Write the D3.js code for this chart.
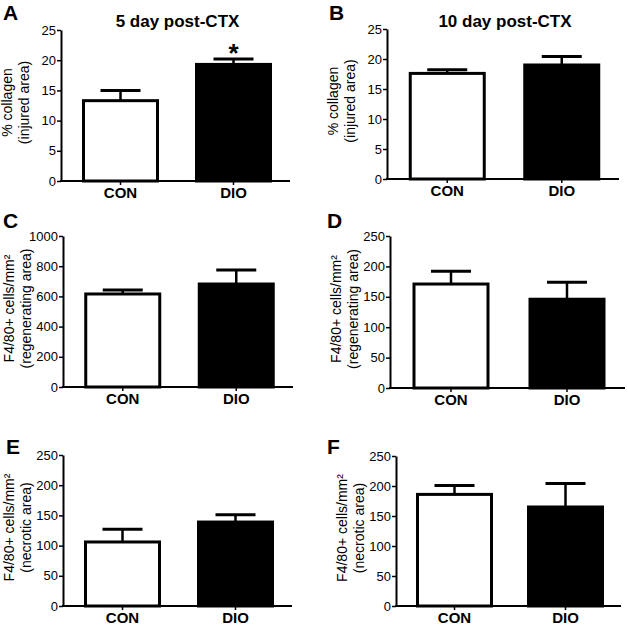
<!DOCTYPE html>
<html>
<head>
<meta charset="utf-8">
<script src="https://cdn.jsdelivr.net/npm/d3@7"></script>
<style>
  html, body { margin: 0; padding: 0; background: #fff; }
  svg { display: block; font-family: "Liberation Sans", Arial, Helvetica, sans-serif; }
</style>
</head>
<body>
<svg id="chart" width="628" height="625"></svg>
<script>
// ---- data ----
const categories = ["CON", "DIO"];
const panelLetters = ["A", "B", "C", "D", "E", "F"];
const panelTitles = ["5 day post-CTX", "10 day post-CTX", "", "", "", ""];
const yLabelLine1 = ["% collagen", "% collagen", "F4/80+ cells/mm²", "F4/80+ cells/mm²", "F4/80+ cells/mm²", "F4/80+ cells/mm²"];
const yLabelLine2 = ["(injured area)", "(injured area)", "(regenerating area)", "(regenerating area)", "(necrotic area)", "(necrotic area)"];
const yMax = [25, 25, 1000, 250, 250, 250];
const yTicks = [
  [0, 5, 10, 15, 20, 25],
  [0, 5, 10, 15, 20, 25],
  [0, 200, 400, 600, 800, 1000],
  [0, 50, 100, 150, 200, 250],
  [0, 50, 100, 150, 200, 250],
  [0, 50, 100, 150, 200, 250]
];
const meanCON = [13.3, 17.6, 616, 171, 106, 186];
const meanDIO = [19.3, 19.0, 682, 146, 139, 165];
const semCON = [1.7, 0.6, 26, 21, 21, 15];
const semDIO = [0.9, 1.4, 93, 28, 12, 39];
const significance = [["", "*"], ["", ""], ["", ""], ["", ""], ["", ""], ["", ""]];

// ---- layout (pixel geometry per panel) ----
const layout = [
  { ax: 61,  xEnd: 290, y0: 181, yTop: 30,  lx: 3,   ly: 20 },
  { ax: 387, xEnd: 619, y0: 179, yTop: 29,  lx: 329, ly: 20 },
  { ax: 63,  xEnd: 293, y0: 387, yTop: 236, lx: 3,   ly: 228 },
  { ax: 390, xEnd: 625, y0: 388, yTop: 236, lx: 327, ly: 228 },
  { ax: 63,  xEnd: 292, y0: 606, yTop: 455, lx: 6,   ly: 454 },
  { ax: 396, xEnd: 621, y0: 606, yTop: 456, lx: 327, ly: 454 }
];

const svg = d3.select("#chart");
const barW = 74;

layout.forEach((L, i) => {
  const g = svg.append("g");
  const y = d3.scaleLinear().domain([0, yMax[i]]).range([L.y0, L.yTop]);
  const x = d3.scalePoint().domain(categories).range([L.ax + 3, L.xEnd]).padding(0.5);

  // panel letter
  g.append("text").attr("x", L.lx).attr("y", L.ly)
    .attr("font-size", 21).attr("font-weight", "bold").text(panelLetters[i]);

  // title
  if (panelTitles[i]) {
    g.append("text").attr("x", (L.ax + L.xEnd) / 2 + 2).attr("y", 27)
      .attr("text-anchor", "middle").attr("font-size", 17).attr("font-weight", "bold")
      .text(panelTitles[i]);
  }

  const rows = categories.map((c, j) => ({
    cat: c,
    mean: j === 0 ? meanCON[i] : meanDIO[i],
    sem: j === 0 ? semCON[i] : semDIO[i],
    sig: significance[i][j],
    fill: j === 0 ? "#fff" : "#000"
  }));

  // error bars (upper only)
  rows.forEach(r => {
    const cx = x(r.cat);
    g.append("line").attr("x1", cx).attr("x2", cx)
      .attr("y1", y(r.mean)).attr("y2", y(r.mean + r.sem))
      .attr("stroke", "#000").attr("stroke-width", 2.5);
    g.append("line").attr("x1", cx - 20).attr("x2", cx + 20)
      .attr("y1", y(r.mean + r.sem)).attr("y2", y(r.mean + r.sem))
      .attr("stroke", "#000").attr("stroke-width", 3);
    if (r.sig) {
      g.append("text").attr("x", cx).attr("y", y(r.mean + r.sem) + 3)
        .attr("text-anchor", "middle").attr("font-size", 26).attr("font-weight", "bold")
        .text(r.sig);
    }
  });

  g.selectAll("rect.bar").data(rows).join("rect")
    .attr("class", "bar")
    .attr("x", d => x(d.cat) - barW / 2)
    .attr("width", barW)
    .attr("y", d => y(d.mean))
    .attr("height", d => y(0) - y(d.mean))
    .attr("fill", d => d.fill)
    .attr("stroke", "#000").attr("stroke-width", 3);

  // y axis
  const yAxis = d3.axisLeft(y).tickValues(yTicks[i]).tickFormat(d3.format("d"))
    .tickSize(4).tickSizeOuter(0).tickPadding(1);
  const ya = g.append("g").attr("transform", `translate(${L.ax},0)`).call(yAxis);
  ya.select(".domain").attr("stroke-width", 2);
  ya.selectAll(".tick line").attr("stroke-width", 1.5);
  ya.selectAll(".tick text").attr("font-size", 13).attr("font-family", "Liberation Sans, Arial, sans-serif").attr("fill", "#000");

  // x axis
  const xa = g.append("g").attr("transform", `translate(0,${L.y0})`);
  xa.append("line").attr("x1", L.ax - 1).attr("x2", L.xEnd).attr("y1", 0).attr("y2", 0)
    .attr("stroke", "#000").attr("stroke-width", 2);
  categories.forEach(c => {
    xa.append("line").attr("x1", x(c)).attr("x2", x(c)).attr("y1", 0).attr("y2", 4)
      .attr("stroke", "#000").attr("stroke-width", 1.5);
    xa.append("text").attr("x", x(c)).attr("y", 16.5).attr("text-anchor", "middle")
      .attr("font-size", 15).attr("font-weight", "bold").text(c);
  });

  // y label (two lines, rotated)
  const cy = (L.y0 + L.yTop) / 2 - 3;
  const lbx = L.ax - 49;
  const yl = g.append("text").attr("transform", `translate(${lbx},${cy}) rotate(-90)`)
    .attr("text-anchor", "middle").attr("font-size", 14);
  yl.append("tspan").attr("x", 0).attr("dy", 0).text(yLabelLine1[i]);
  yl.append("tspan").attr("x", 0).attr("dy", 16.5).text(yLabelLine2[i]);
});
</script>
</body>
</html>
